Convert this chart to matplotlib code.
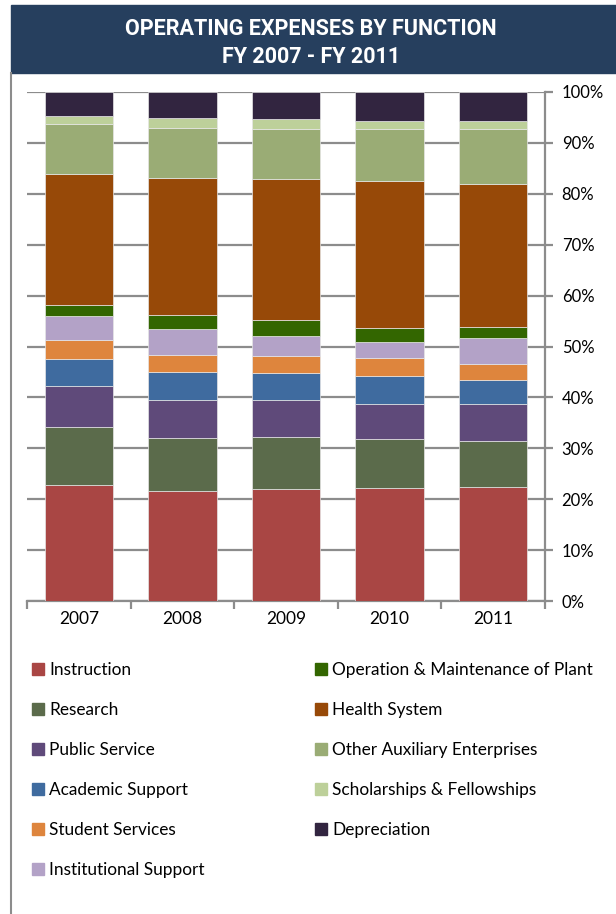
import numpy as np
import matplotlib
matplotlib.use("Agg")
import matplotlib.pyplot as plt
from matplotlib.patches import Rectangle, Patch
from matplotlib.lines import Line2D
from matplotlib.ticker import FuncFormatter

# ---- Data (share of total operating expenses, %) ----
years = ["2007", "2008", "2009", "2010", "2011"]

instruction = [22.7, 21.6, 22.1, 22.2, 22.4]
research = [11.5, 10.4, 10.2, 9.6, 9.0]
public_service = [8.0, 7.4, 7.1, 7.0, 7.4]
academic_support = [5.3, 5.6, 5.3, 5.4, 4.7]
student_services = [3.7, 3.3, 3.4, 3.6, 3.1]
institutional_support = [4.7, 5.1, 3.9, 3.1, 5.1]
operation_maintenance = [2.2, 2.8, 3.2, 2.8, 2.2]
health_system = [25.7, 27.0, 27.7, 28.9, 28.1]
other_auxiliary = [10.0, 9.8, 9.8, 10.1, 10.7]
scholarships = [1.5, 1.8, 2.0, 1.7, 1.7]
depreciation = [4.7, 5.2, 5.3, 5.6, 5.6]

series = [
    ("Instruction", instruction, "#A94644"),
    ("Research", research, "#5B6B4B"),
    ("Public Service", public_service, "#5F4A7A"),
    ("Academic Support", academic_support, "#3F6B9F"),
    ("Student Services", student_services, "#DE853D"),
    ("Institutional Support", institutional_support, "#B3A2C7"),
    ("Operation & Maintenance of Plant", operation_maintenance, "#336600"),
    ("Health System", health_system, "#974908"),
    ("Other Auxiliary Enterprises", other_auxiliary, "#9AAC75"),
    ("Scholarships & Fellowships", scholarships, "#BDD09A"),
    ("Depreciation", depreciation, "#322540"),
]

plt.rcParams["font.family"] = ["Lato", "DejaVu Sans"]

fig = plt.figure(figsize=(6.16, 9.14), dpi=100)

# ---- Title banner and frame ----
fig.patches.append(Rectangle((11 / 616, 1 - 73 / 914), 1 - 11 / 616, 68 / 914,
                             transform=fig.transFigure, color="#263F5E", zorder=0))
fig.lines.append(Line2D([10.5 / 616, 10.5 / 616], [0, 1 - 73 / 914],
                        transform=fig.transFigure, color="#8C8C8C", lw=1.5))
fig.text(0.505, 1 - 29 / 914, "OPERATING EXPENSES BY FUNCTION", color="white",
         ha="center", va="center", fontsize=15.5, fontweight="bold",
         family=["Roboto", "DejaVu Sans"])
fig.text(0.505, 1 - 57 / 914, "FY 2007 - FY 2011", color="white",
         ha="center", va="center", fontsize=15.5, fontweight="bold",
         family=["Roboto", "DejaVu Sans"])

# ---- Stacked bars ----
ax = fig.add_axes([27 / 616, 1 - 601 / 914, 518 / 616, 509 / 914])
x = np.arange(len(years))
bottom = np.zeros(len(years))
handles = []
for name, vals, color in series:
    ax.bar(x, vals, bottom=bottom, width=0.66, color=color,
           edgecolor="#E6E6E6", linewidth=0.5, zorder=3)
    bottom += np.array(vals)
    handles.append(Patch(color=color, label=name))

ax.set_xlim(-0.5, 4.5)
ax.set_ylim(0, 100)
ax.set_yticks(np.arange(0, 101, 10))
ax.yaxis.set_major_formatter(FuncFormatter(lambda v, _: f"{v:.0f}%"))
ax.yaxis.tick_right()
ax.grid(axis="y", color="#8C8C8C", linewidth=1.6, zorder=0)

for side in ["top", "left"]:
    ax.spines[side].set_visible(False)
for side in ["right", "bottom"]:
    ax.spines[side].set_color("#8C8C8C")
    ax.spines[side].set_linewidth(1.6)

ax.set_xticks(x)
ax.set_xticklabels(years, fontsize=12.5)
ax.tick_params(axis="x", which="major", length=0, pad=7)
ax.set_xticks(np.arange(-0.5, 4.6, 1), minor=True)
ax.tick_params(axis="x", which="minor", length=6, width=1.6, color="#8C8C8C")
ax.tick_params(axis="y", length=6, width=1.6, color="#8C8C8C",
               labelsize=12, pad=6)

# ---- Legend: two columns ----
leg_kw = dict(loc="upper left", frameon=False, fontsize=12.4,
              handlelength=0.7, handleheight=0.7, handletextpad=0.3,
              labelspacing=1.4, borderaxespad=0)
fig.legend(handles=handles[:6], bbox_to_anchor=(25 / 616, 1 - 655 / 914),
           **leg_kw)
fig.legend(handles=handles[6:], bbox_to_anchor=(308 / 616, 1 - 655 / 914),
           **leg_kw)

plt.savefig("out.png", dpi=100)
